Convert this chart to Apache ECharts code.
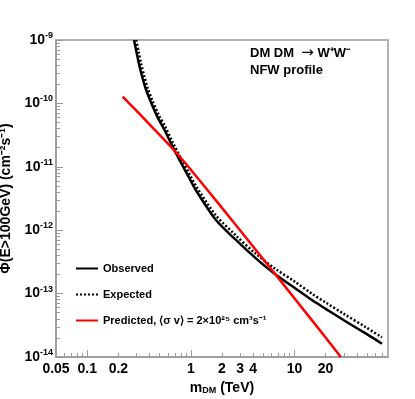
<!DOCTYPE html>
<html>
<head>
<meta charset="utf-8">
<script src="https://cdn.jsdelivr.net/npm/echarts@6/dist/echarts.min.js"></script>
<style>
html, body { margin: 0; background: #fff; }
#chart { width: 415px; height: 399px; }
</style>
</head>
<body>
<div id="chart"></div>
<script>
// m_DM (TeV) and flux limits
var massObs = [0.283, 0.299, 0.316, 0.338, 0.365, 0.404, 0.471, 0.562, 0.671, 0.83, 1.0, 1.12, 1.74, 2.71, 4.22, 6.57, 10, 15, 20, 30, 50, 70]
var fluxObs = [1e-9, 6.47e-10, 4.19e-10, 2.71e-10, 1.75e-10, 1.13e-10, 6.35e-11, 3.72e-11, 2.04e-11, 1.05e-11, 6.0e-12, 4.27e-12,
  1.46e-12, 7.08e-13, 3.63e-13, 2.0e-13, 1.24e-13, 7.76e-14, 5.75e-14, 3.8e-14, 2.29e-14, 1.62e-14]

var massExp = [0.297, 0.314, 0.332, 0.355, 0.383, 0.424, 0.495, 0.562, 0.671, 0.83, 1.0, 1.12, 1.74, 2.71, 4.22, 6.57, 10, 15, 20, 30, 50, 70]
var fluxExp = [1e-9, 6.47e-10, 4.19e-10, 2.71e-10, 1.75e-10, 1.13e-10, 6.35e-11, 4.4e-11, 2.4e-11, 1.23e-11, 7.0e-12, 5.0e-12,
  1.72e-12, 8.32e-13, 4.27e-13, 2.45e-13, 1.56e-13, 9.77e-14, 7.24e-14, 4.79e-14, 2.88e-14, 2.04e-14]

var massPred = [0.22, 0.3, 0.4, 0.618, 0.83, 1, 2, 3, 6.57, 10, 20, 28]
var fluxPred = [1.28e-10, 7.6e-11, 4.67e-11, 2.22e-11, 1.29e-11, 9.0e-12, 2.25e-12, 9.9e-13, 2.0e-13, 8.45e-14, 2.03e-14, 1.0e-14]

var xLabels = [0.05, 0.1, 0.2, 1, 2, 3, 4, 10, 20]
var xMajor = [0.1, 1, 10]
var yMajor = [1e-14, 1e-13, 1e-12, 1e-11, 1e-10, 1e-9]
var minorSteps = [2, 3, 4, 5, 6, 7, 8, 9]

var xMinor = []
;[0.01, 0.1, 1, 10].forEach(function(d) {
  minorSteps.forEach(function(m) {
    var v = +(m * d).toPrecision(3)
    if (v > 0.05 && v < 80) xMinor.push(v)
  })
})
var yMinor = []
yMajor.slice(0, 5).forEach(function(d) {
  minorSteps.forEach(function(m) { yMinor.push(+(m * d).toPrecision(3)) })
})

function pairs(xs, ys) {
  return xs.map(function(x, i) { return [x, ys[i]] })
}

var font = '"Liberation Sans", Arial, Helvetica, sans-serif'
var gray = '#999'
var predName = 'Predicted, \u27e8\u03c3 v\u27e9 = 2\u00d710\u00b2\u2075 cm\u00b3s\u207b\u00b9'

var chart = echarts.init(document.getElementById('chart'))
chart.setOption({
  animation: false,
  backgroundColor: '#fff',
  textStyle: { fontFamily: font },
  grid: {
    left: 56,
    top: 40,
    right: 27,
    bottom: 42,
    outerBoundsMode: 'none',
    show: true,
    borderColor: gray,
    borderWidth: 1.5
  },
  legend: {
    orient: 'vertical',
    left: 70,
    top: 258,
    itemWidth: 22,
    itemHeight: 12,
    itemGap: 15,
    itemStyle: { opacity: 0 },
    textStyle: { fontSize: 11, fontWeight: 'bold', color: '#000', fontFamily: font },
    data: ['Observed', 'Expected', predName]
  },
  xAxis: [
    {
      type: 'log',
      min: 0.05,
      max: 80,
      splitLine: { show: false },
      axisLine: { lineStyle: { color: gray, width: 1.5 } },
      axisTick: { inside: true, length: 4, customValues: xMinor, lineStyle: { color: gray } },
      axisLabel: {
        customValues: xLabels,
        margin: 5,
        color: '#000',
        fontSize: 14,
        fontWeight: 'bold',
        fontFamily: font,
        formatter: function(v) { return String(+v.toPrecision(3)) }
      },
      name: '{m|m}{s|DM}{m| (TeV)}',
      nameLocation: 'middle',
      nameGap: 14,
      nameTextStyle: {
        rich: {
          m: { fontSize: 14, fontWeight: 'bold', color: '#000', fontFamily: font },
          s: { fontSize: 9, fontWeight: 'bold', color: '#000', fontFamily: font, padding: [6, 0, 0, 0] }
        }
      }
    },
    {
      type: 'log',
      min: 0.05,
      max: 80,
      position: 'bottom',
      splitLine: { show: false },
      axisLine: { show: false },
      axisTick: { inside: true, length: 7, customValues: xMajor, lineStyle: { color: gray } },
      axisLabel: { show: false }
    }
  ],
  yAxis: [
    {
      type: 'log',
      min: 1e-14,
      max: 1e-9,
      splitLine: { show: false },
      axisLine: { lineStyle: { color: gray, width: 1.5 } },
      axisTick: { inside: true, length: 7, customValues: yMajor, lineStyle: { color: gray } },
      axisLabel: {
        customValues: yMajor,
        margin: 3,
        formatter: function(v) {
          return '{b|10}{s|' + Math.round(Math.log10(v)) + '}'
        },
        rich: {
          b: { fontSize: 14, fontWeight: 'bold', color: '#000', fontFamily: font },
          s: { fontSize: 9, fontWeight: 'bold', color: '#000', fontFamily: font, padding: [0, 0, 9, 0] }
        }
      },
      name: '\u03a6(E>100GeV) (cm\u207b\u00b2s\u207b\u00b9)',
      nameLocation: 'middle',
      nameRotate: 90,
      nameGap: 27,
      nameTextStyle: { fontSize: 14, fontWeight: 'bold', color: '#000', fontFamily: font }
    },
    {
      type: 'log',
      min: 1e-14,
      max: 1e-9,
      position: 'left',
      splitLine: { show: false },
      axisLine: { show: false },
      axisTick: { inside: true, length: 4, customValues: yMinor, lineStyle: { color: gray } },
      axisLabel: { show: false }
    }
  ],
  graphic: [
    {
      type: 'text',
      left: 250,
      top: 46,
      style: {
        text: '{t|DM DM  }{a|\u2192}{t| W\u207aW\u207b}',
        rich: {
          t: { fontSize: 13, fontWeight: 'bold', fill: '#000', fontFamily: font },
          a: { fontSize: 15, fill: '#000', fontFamily: '"DejaVu Sans", sans-serif' }
        }
      }
    },
    {
      type: 'text',
      left: 250,
      top: 64,
      style: { text: 'NFW profile', fontSize: 13, fontWeight: 'bold', fill: '#000', fontFamily: font }
    }
  ],
  series: [
    {
      name: 'Observed',
      type: 'line',
      smooth: 0.3,
      symbol: 'none',
      lineStyle: { color: '#000', width: 2.5 },
      itemStyle: { color: '#000' },
      data: pairs(massObs, fluxObs)
    },
    {
      name: 'Expected',
      type: 'line',
      smooth: 0.3,
      symbol: 'none',
      lineStyle: { color: '#000', width: 2.5, type: [2, 2] },
      itemStyle: { color: '#000' },
      data: pairs(massExp, fluxExp)
    },
    {
      name: predName,
      type: 'line',
      smooth: 0.2,
      symbol: 'none',
      lineStyle: { color: '#ff0000', width: 2.5 },
      itemStyle: { color: '#ff0000' },
      data: pairs(massPred, fluxPred)
    }
  ]
})
</script>
</body>
</html>
